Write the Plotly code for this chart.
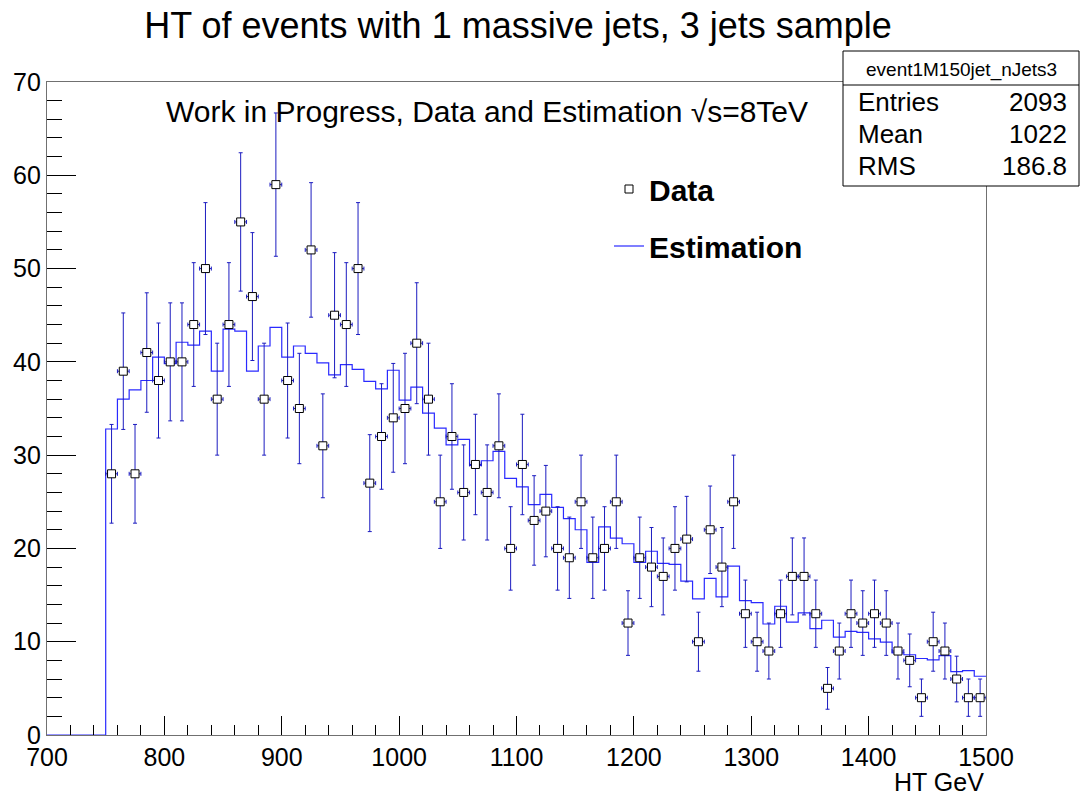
import plotly.graph_objects as go

# ---- data ----
bin_width = 10
ht_centers = list(range(755, 1500, 10))  # data bin centres (GeV)
data_counts = [28, 39, 28, 41, 38, 40, 40, 44, 50, 36,
               44, 55, 47, 36, 59, 38, 35, 52, 31, 45,
               44, 50, 27, 32, 34, 35, 42, 36, 25, 32,
               26, 29, 26, 31, 20, 29, 23, 24, 20, 19,
               25, 19, 20, 25, 12, 19, 18, 17, 20, 21,
               10, 22, 18, 25, 13, 10, 9, 13, 17, 17,
               13, 5, 9, 13, 12, 13, 12, 9, 8, 4,
               10, 9, 6, 4, 4]

est_low_edges = list(range(700, 1500, 10))  # estimation bin low edges
est_values = [0, 0, 0, 0, 0,
              32.8, 36.0, 37.0, 38.0, 40.5, 39.8, 42.1, 41.8, 43.3, 39.0,
              43.5, 43.3, 39.0, 41.7, 43.7, 40.5, 41.7, 40.9, 39.9, 38.6,
              39.7, 39.2, 37.9, 37.1, 39.1, 35.9, 37.3, 34.5, 32.9, 31.1,
              31.7, 28.9, 29.4, 30.4, 27.5, 26.6, 24.7, 25.8, 24.4, 23.2,
              22.0, 18.5, 22.3, 21.1, 20.5, 18.5, 19.7, 18.4, 18.3, 16.5,
              14.6, 16.8, 14.8, 18.1, 14.4, 14.2, 11.9, 13.8, 12.1, 13.1,
              11.4, 12.3, 10.5, 11.1, 11.0, 10.3, 9.95, 8.8, 8.6, 8.2,
              8.05, 8.5, 6.8, 6.9, 6.3]

stats_name = "event1M150jet_nJets3"
stats_labels = ["Entries", "Mean", "RMS"]
stats_values = ["2093", "1022", "186.8"]

title_text = "HT of events with 1 massive jets, 3 jets sample"
work_text = "Work in Progress, Data and Estimation √s=8TeV"
x_title = "HT GeV"

# ---- geometry helpers (pixel layout of the ROOT canvas) ----
W, H = 1080, 796
L, R, T, B = 47, 986, 82, 735


def px(xp):
    return (xp - L) / (R - L)


def py(yp):
    return (B - yp) / (B - T)


FONT = "Liberation Sans, Arial, Helvetica, sans-serif"
EBLUE = "#1c1cc0"

fig = go.Figure()

# estimation step histogram
est_x = est_low_edges + [est_low_edges[-1] + bin_width]
est_y = est_values + [est_values[-1]]
fig.add_trace(go.Scatter(
    x=est_x, y=est_y, mode="lines", line_shape="hv",
    line=dict(color="#2a2aff", width=1.2),
    name="<b>Estimation</b>", legendgroup="est", legendrank=2,
))

# data points with errors
fig.add_trace(go.Scatter(
    x=ht_centers, y=data_counts, mode="markers",
    marker=dict(symbol="square", size=8, color="white",
                line=dict(color="black", width=1)),
    error_y=dict(type="sqrt", color=EBLUE, thickness=1, width=2),
    error_x=dict(type="constant", value=bin_width / 2, color=EBLUE,
                 thickness=1, width=2),
    name="<b>Data</b>", legendgroup="data", legendrank=1,
))

axis_common = dict(showline=True, mirror=True, linecolor="#707070", linewidth=1.3,
                   showgrid=False, zeroline=False, ticks="inside",
                   tickcolor="black", tickwidth=1,
                   tickfont=dict(family=FONT, size=25, color="black"))

fig.update_xaxes(range=[700, 1500], tick0=700, dtick=100, ticklen=19,
                 minor=dict(ticks="inside", dtick=20, ticklen=10,
                            tickcolor="black", tickwidth=1),
                 **axis_common)
fig.update_yaxes(range=[0, 70], tick0=0, dtick=10, ticklen=29,
                 minor=dict(ticks="inside", dtick=2, ticklen=15,
                            tickcolor="black", tickwidth=1),
                 **axis_common)

shapes = []
annotations = []

# stats box
shapes.append(dict(type="rect", xref="paper", yref="paper",
                   x0=px(843), x1=px(1079), y0=py(186), y1=py(51),
                   line=dict(color="black", width=1), fillcolor="white",
                   layer="above"))
shapes.append(dict(type="line", xref="paper", yref="paper",
                   x0=px(843), x1=px(1079), y0=py(85), y1=py(85),
                   line=dict(color="black", width=1), layer="above"))
annotations.append(dict(text=stats_name, xref="paper", yref="paper",
                        x=px(961), y=py(70), xanchor="center", yanchor="middle",
                        showarrow=False, font=dict(family=FONT, size=19, color="black")))
row_y = [102, 134, 166]
for lab, val, yy in zip(stats_labels, stats_values, row_y):
    annotations.append(dict(text=lab, xref="paper", yref="paper",
                            x=px(856), y=py(yy), xanchor="left", yanchor="middle",
                            showarrow=False, font=dict(family=FONT, size=26, color="black")))
    annotations.append(dict(text=val, xref="paper", yref="paper",
                            x=px(1069), y=py(yy), xanchor="right", yanchor="middle",
                            showarrow=False, font=dict(family=FONT, size=26, color="black")))

# work in progress label
annotations.append(dict(text=work_text, xref="paper", yref="paper",
                        x=px(487), y=py(111), xanchor="center", yanchor="middle",
                        showarrow=False, font=dict(family=FONT, size=30, color="black")))

# x axis title, right aligned
annotations.append(dict(text=x_title, xref="paper", yref="paper",
                        x=px(986), y=py(782), xanchor="right", yanchor="middle",
                        showarrow=False, font=dict(family=FONT, size=25, color="black")))

fig.update_layout(
    width=W, height=H,
    margin=dict(l=L, r=W - R, t=T, b=H - B),
    paper_bgcolor="white", plot_bgcolor="white",
    title=dict(text=title_text, x=518 / W, xref="container", xanchor="center",
               y=1 - 25 / H, yref="container", yanchor="middle",
               font=dict(family=FONT, size=36, color="black")),
    showlegend=True,
    legend=dict(x=px(609), y=py(163), xanchor="left", yanchor="top",
                bgcolor="rgba(0,0,0,0)", borderwidth=0,
                font=dict(family=FONT, size=30, color="black"),
                tracegroupgap=15, itemwidth=30),
    shapes=shapes, annotations=annotations,
)

fig.write_html(
    "out.html",
    config={"displayModeBar": False},
    post_script="document.body.style.margin='0px';document.body.style.overflow='hidden';",
)
